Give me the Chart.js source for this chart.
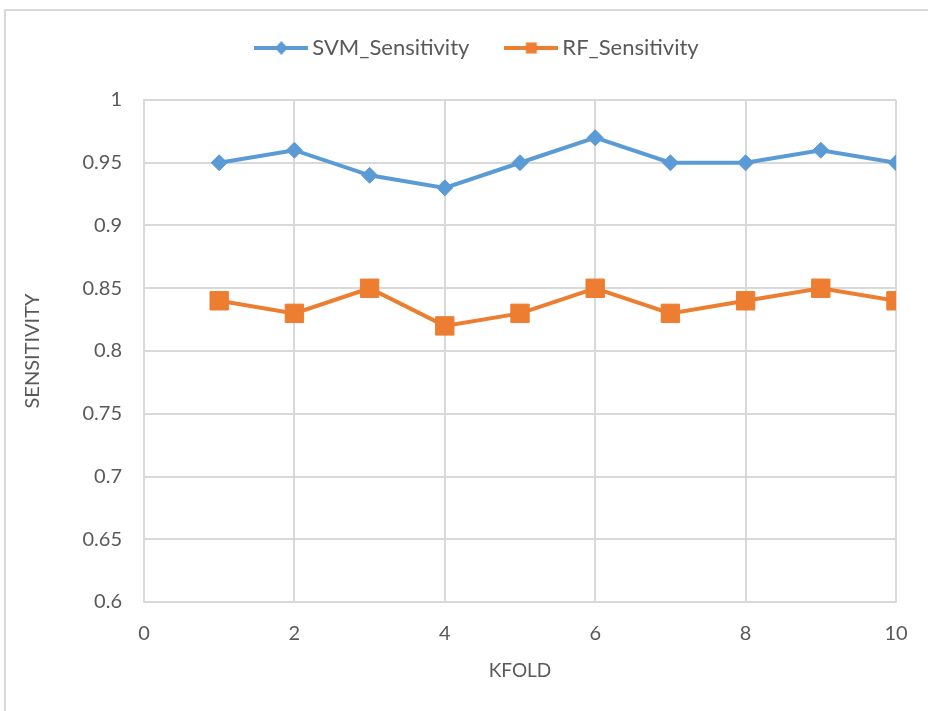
<!DOCTYPE html>
<html>
<head>
<meta charset="utf-8">
<script src="https://cdn.jsdelivr.net/npm/chart.js@4.4.1/dist/chart.umd.min.js"></script>
<style>
  html, body { margin: 0; padding: 0; background: #ffffff; }
  #wrap { position: relative; width: 928px; height: 711px; overflow: hidden; }
  #c { position: absolute; left: 0; top: 0; }
  .bt { position: absolute; left: 4px; top: 9px; width: 924px; height: 2px; background: #d9d9d9; }
  .bl { position: absolute; left: 4px; top: 9px; width: 2px; height: 702px; background: #d9d9d9; }
</style>
</head>
<body>
<div id="wrap">
  <canvas id="c" width="928" height="711"></canvas>
  <div class="bt"></div>
  <div class="bl"></div>
</div>
<script>
const kfold = [1, 2, 3, 4, 5, 6, 7, 8, 9, 10];
const svmSensitivity = [0.95, 0.96, 0.94, 0.93, 0.95, 0.97, 0.95, 0.95, 0.96, 0.95];
const rfSensitivity  = [0.84, 0.83, 0.85, 0.82, 0.83, 0.85, 0.83, 0.84, 0.85, 0.84];
const seriesNames = ['SVM_Sensitivity', 'RF_Sensitivity'];
const xTitle = 'KFOLD';
const yTitle = 'SENSITIVITY';

const blue = '#5b9bd5';
const orange = '#ed7d31';
const textColor = '#595959';
const gridColor = '#d9d9d9';
const FONT = 'Lato, "Open Sans", sans-serif';

function legendIcon(color, shape) {
  const cv = document.createElement('canvas');
  cv.width = 54; cv.height = 16;
  const g = cv.getContext('2d');
  g.strokeStyle = color; g.lineWidth = 4;
  g.beginPath(); g.moveTo(0, 8); g.lineTo(54, 8); g.stroke();
  g.fillStyle = color;
  if (shape === 'diamond') {
    g.beginPath(); g.moveTo(27, 1); g.lineTo(33.5, 8); g.lineTo(27, 15); g.lineTo(20.5, 8); g.closePath(); g.fill();
  } else {
    g.fillRect(21.5, 2.5, 11, 11);
  }
  return cv;
}
const icons = [legendIcon(blue, 'diamond'), legendIcon(orange, 'square')];

const toPts = (ys) => kfold.map((x, i) => ({ x: x, y: ys[i] }));

// Fix legend box height (gap below legend) and position, like the Excel layout.
const legendPlacement = {
  id: 'legendPlacement',
  beforeLayout(chart) {
    const lg = chart.legend;
    if (lg && !lg._wrapped) {
      const orig = lg.fit;
      lg.fit = function () { orig.call(this); this.height = 100; };
      lg._wrapped = true;
    }
  },
  afterLayout(chart) {
    const lg = chart.legend;
    if (lg) { lg.top = -5; lg.left += 28; lg.right += 28; }
  }
};

new Chart(document.getElementById('c'), {
  type: 'line',
  data: {
    datasets: [
      {
        label: seriesNames[0], data: toPts(svmSensitivity),
        borderColor: blue, backgroundColor: blue, borderWidth: 4,
        pointStyle: 'rectRot', pointRadius: 8, pointHoverRadius: 8,
        pointBorderWidth: 1, pointBackgroundColor: blue, pointBorderColor: blue,
        tension: 0, fill: false
      },
      {
        label: seriesNames[1], data: toPts(rfSensitivity),
        borderColor: orange, backgroundColor: orange, borderWidth: 4,
        pointStyle: 'rect', pointRadius: 13, pointHoverRadius: 13,
        pointBorderWidth: 1, pointBackgroundColor: orange, pointBorderColor: orange,
        tension: 0, fill: false
      }
    ]
  },
  plugins: [legendPlacement],
  options: {
    responsive: false,
    animation: false,
    events: [],
    layout: { padding: { left: 8, right: 32, top: 0, bottom: 29 } },
    plugins: {
      tooltip: { enabled: false },
      legend: {
        position: 'top',
        labels: {
          color: textColor,
          font: { family: FONT, size: 22 },
          usePointStyle: true,
          pointStyleWidth: 40,
          boxHeight: 16,
          padding: 42,
          generateLabels: (chart) => {
            const items = Chart.defaults.plugins.legend.labels.generateLabels(chart);
            items.forEach((it, i) => { it.pointStyle = icons[i]; });
            return items;
          }
        }
      }
    },
    scales: {
      x: {
        type: 'linear', min: 0, max: 10,
        ticks: { stepSize: 2, color: textColor, font: { family: FONT, size: 20 }, padding: 20 },
        grid: { color: gridColor, lineWidth: 2, drawTicks: false },
        border: { color: gridColor, width: 2 },
        title: { display: true, text: xTitle, color: textColor, font: { family: FONT, size: 19 }, padding: { top: 4, bottom: 0 } },
        afterFit: (s) => { s.height = 80; }
      },
      y: {
        min: 0.6, max: 1,
        ticks: {
          stepSize: 0.05, color: textColor, font: { family: FONT, size: 20 }, padding: 22,
          callback: (v) => String(Number(v.toFixed(2)))
        },
        grid: { color: gridColor, lineWidth: 2, drawTicks: false },
        border: { color: gridColor, width: 2 },
        title: { display: true, text: yTitle, color: textColor, font: { family: FONT, size: 20 }, padding: { top: 13, bottom: 0 } },
        afterFit: (s) => { s.width = 136; }
      }
    }
  }
});
</script>
</body>
</html>
